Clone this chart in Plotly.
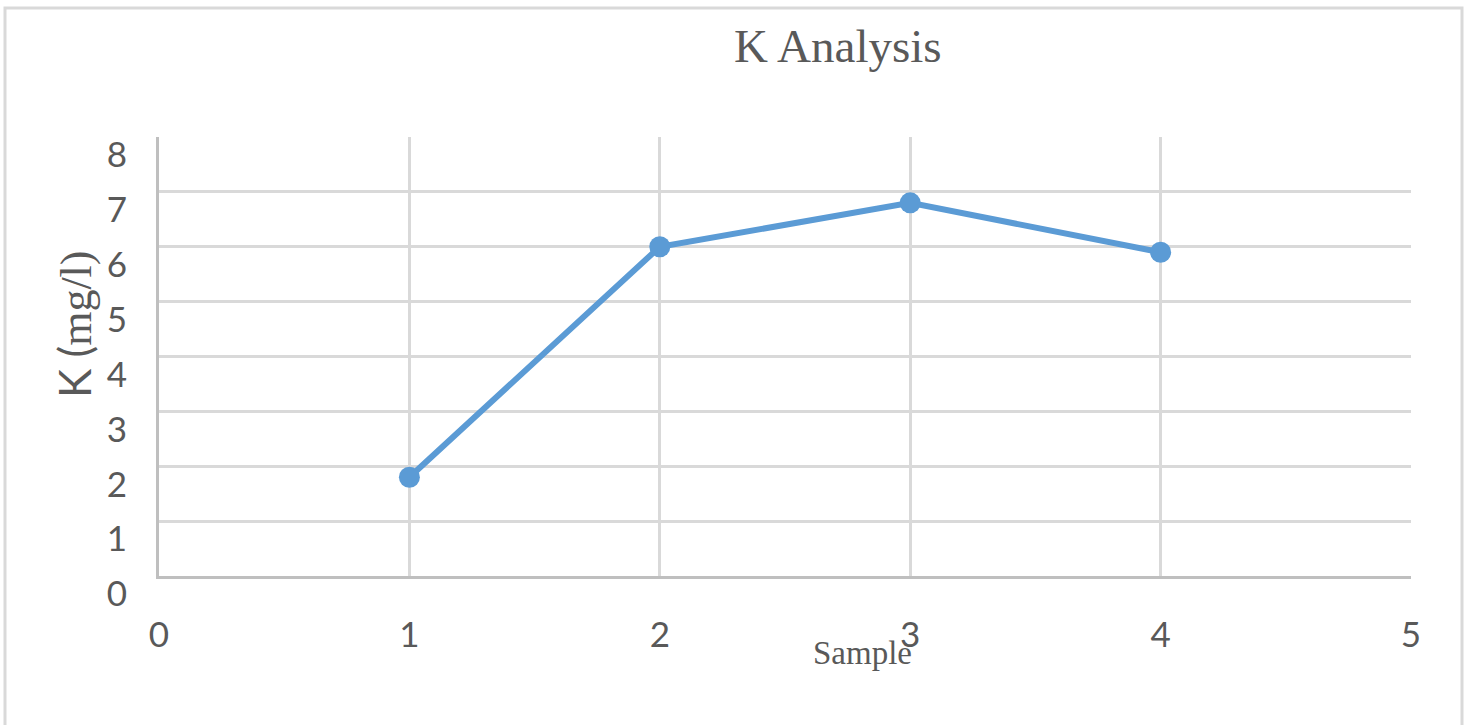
import plotly.graph_objects as go

samples = [1, 2, 3, 4]
k_values = [1.8, 6.0, 6.8, 5.9]
x_ticks = [0, 1, 2, 3, 4, 5]
y_ticks = [0, 1, 2, 3, 4, 5, 6, 7, 8]

W, H = 1469, 725
L, R, T, B = 159, 58, 137, 149
pw, ph = W - L - R, H - T - B

def px(xp):
    return (xp - L) / pw

def py(yp):
    return (H - B - yp) / ph

fig = go.Figure()
fig.add_trace(go.Scatter(
    x=samples, y=k_values, mode="lines+markers",
    line=dict(color="#5b9bd5", width=6),
    marker=dict(color="#5b9bd5", size=21),
    showlegend=False,
))

tick_font = dict(family="Lato, 'Open Sans', sans-serif", size=35, color="#595959")

fig.update_layout(
    width=W, height=H,
    margin=dict(l=L, r=R, t=T, b=B),
    paper_bgcolor="white", plot_bgcolor="white",
    xaxis=dict(range=[0, 5], tickvals=x_ticks, showgrid=True, gridcolor="#d9d9d9",
               gridwidth=3, zeroline=False, showline=True, linecolor="#bfbfbf",
               linewidth=3, ticks="", tickfont=tick_font, ticklabelstandoff=26),
    yaxis=dict(range=[0, 8], tickvals=y_ticks, showgrid=True, gridcolor="#d9d9d9",
               gridwidth=3, zeroline=False, showline=True, linecolor="#bfbfbf",
               linewidth=3, ticks="", tickfont=tick_font, ticklabelstandoff=22,
               ticklabelshift=18),
    shapes=[dict(type="rect", xref="paper", yref="paper",
                 x0=px(5), x1=px(1462), y0=py(732), y1=py(8),
                 line=dict(color="#d9d9d9", width=3), layer="below")],
)

fig.add_annotation(text="K Analysis", xref="paper", yref="paper",
                   x=px(838), y=py(46), xanchor="center", yanchor="middle", showarrow=False,
                   font=dict(family="'Liberation Serif', 'Times New Roman', serif", size=47, color="#595959"))
fig.add_annotation(text="Sample", xref="paper", yref="paper",
                   x=px(862), y=py(653), xanchor="center", yanchor="middle", showarrow=False,
                   font=dict(family="'Liberation Serif', 'Times New Roman', serif", size=33, color="#595959"))
fig.add_annotation(
    text="K (<span style=\"font-family:'Liberation Serif', serif\">mg/l)</span>",
    xref="paper", yref="paper", x=px(74), y=py(324), xanchor="center", yanchor="middle",
    showarrow=False, textangle=-90,
    font=dict(family="Lato, 'Open Sans', sans-serif", size=44, color="#595959"))

fig.write_html("out.html")
